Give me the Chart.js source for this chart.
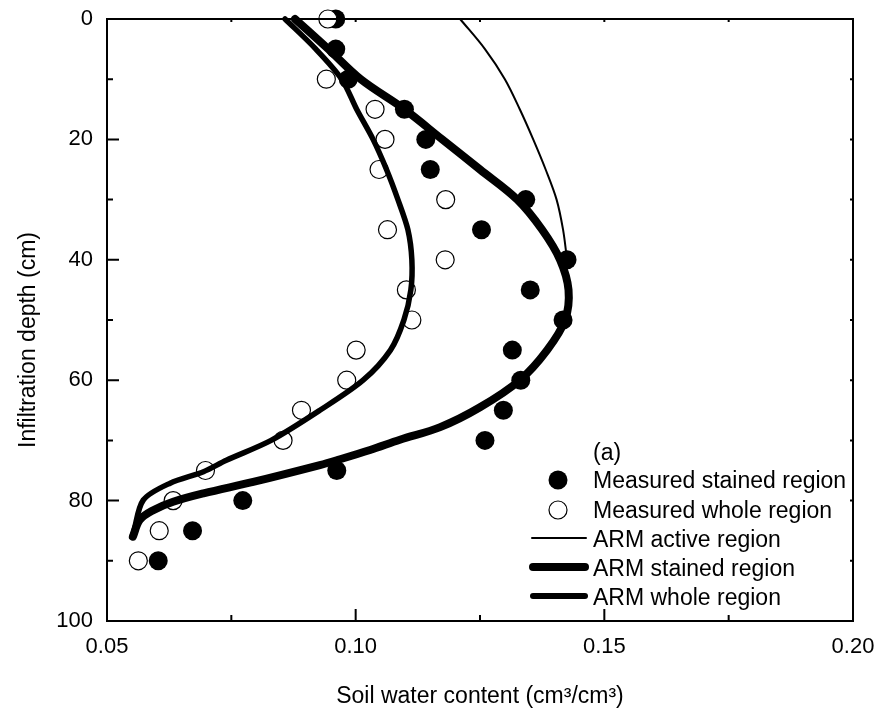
<!DOCTYPE html>
<html><head><meta charset="utf-8">
<script src="https://cdn.jsdelivr.net/npm/chart.js@4/dist/chart.umd.min.js"></script>
<style>html,body{margin:0;padding:0;background:#fff;}#wrap{width:879px;height:717px;}</style>
</head><body><div id="wrap"><canvas id="c" width="879" height="717"></canvas></div>
<script>
// ---- data ----
const depthStained = [0,5,10,15,20,25,30,35,40,45,50,55,60,65,70,75,80,85,90];
const thetaStained = [0.0960,0.0960,0.0985,0.1098,0.1141,0.1150,0.1342,0.1253,0.1425,0.1351,0.1417,0.1315,0.1332,0.1297,0.1260,0.0962,0.0773,0.0672,0.0603];
const depthWhole = [0,10,15,20,25,30,35,40,45,50,55,60,65,70,75,80,85,90];
const thetaWhole = [0.0944,0.0941,0.1039,0.1059,0.1047,0.1181,0.1064,0.1180,0.1102,0.1113,0.1001,0.0982,0.0891,0.0854,0.0698,0.0633,0.0605,0.0563];
const depthArmActive = [0,5,10,15,20,25,30,35,40];
const thetaArmActive = [0.1210,0.1260,0.1300,0.1330,0.1357,0.1382,0.1404,0.1417,0.1425];
const depthArmStained = [0,5,10,15,20,25,30,35,40,45,50,55,60,64.5,67.8,69.9,71.6,73.3,74.1,76.9,78.8,80.2,81.6,83.2,86.0];
const thetaArmStained = [0.0878,0.0945,0.1010,0.1098,0.1174,0.1250,0.1325,0.1375,0.1411,0.1428,0.1421,0.1385,0.1330,0.1250,0.1170,0.1089,0.1029,0.0962,0.0928,0.0794,0.0694,0.0633,0.0593,0.0566,0.0552];
const depthArmWhole = [0,5,10,15,20,25,30,35,40,45,50,55,60,65,70,73.3,75.2,77.1,79.9,85.4,86.0];
const thetaArmWhole = [0.0858,0.0920,0.0972,0.1002,0.1035,0.1062,0.1085,0.1105,0.1113,0.1111,0.1097,0.1070,0.1015,0.0928,0.0830,0.0740,0.0694,0.0627,0.0573,0.0553,0.0550];
const xTicks = [0.05,0.10,0.15,0.20];
const xMinorTicks = [0.075,0.125,0.175];
const yTicks = [0,20,40,60,80,100];
const yMinorTicks = [10,30,50,70,90];
const legendLabels = ['Measured stained region','Measured whole region','ARM active region','ARM stained region','ARM whole region'];
const panelLabel = '(a)';
const xTitle = 'Soil water content (cm\u00B3/cm\u00B3)';
const yTitle = 'Infiltration depth (cm)';

const FONT = "'Liberation Sans', Arial, Helvetica, sans-serif";
const pts = (xs, ys) => xs.map((x,i)=>({x:x, y:ys[i]}));

const decor = {
  id:'decor',
  afterDraw(chart){
    const ctx = chart.ctx, a = chart.chartArea;
    const xs = chart.scales.x, ys = chart.scales.y;
    ctx.save();
    ctx.strokeStyle='#000'; ctx.fillStyle='#000';
    ctx.lineWidth = 2;
    ctx.strokeRect(a.left, a.top, a.right-a.left, a.bottom-a.top);
    ctx.beginPath();
    xTicks.forEach(v=>{const p=xs.getPixelForValue(v); ctx.moveTo(p,a.bottom); ctx.lineTo(p,a.bottom-12); ctx.moveTo(p,a.top); ctx.lineTo(p,a.top+3);});
    xMinorTicks.forEach(v=>{const p=xs.getPixelForValue(v); ctx.moveTo(p,a.bottom); ctx.lineTo(p,a.bottom-6); ctx.moveTo(p,a.top); ctx.lineTo(p,a.top+3);});
    yTicks.forEach(v=>{const p=ys.getPixelForValue(v); ctx.moveTo(a.left,p); ctx.lineTo(a.left+12,p); ctx.moveTo(a.right,p); ctx.lineTo(a.right-3,p);});
    yMinorTicks.forEach(v=>{const p=ys.getPixelForValue(v); ctx.moveTo(a.left,p); ctx.lineTo(a.left+6,p); ctx.moveTo(a.right,p); ctx.lineTo(a.right-3,p);});
    ctx.stroke();
    ctx.font = '23px ' + FONT;
    ctx.textAlign='center'; ctx.textBaseline='alphabetic';
    ctx.fillText(xTitle, (a.left+a.right)/2, 703);
    ctx.save();
    ctx.translate(35, 340);
    ctx.rotate(-Math.PI/2);
    ctx.fillText(yTitle, 0, 0);
    ctx.restore();
    ctx.textAlign='left';
    const tx = 593;
    ctx.fillText(panelLabel, tx, 460);
    const base = [488, 518, 547, 576, 605];
    legendLabels.forEach((t,i)=>ctx.fillText(t, tx, base[i]));
    ctx.beginPath(); ctx.arc(558, 480, 9.5, 0, Math.PI*2); ctx.fill();
    ctx.beginPath(); ctx.arc(558, 510, 9, 0, Math.PI*2); ctx.fillStyle='#fff'; ctx.fill(); ctx.lineWidth=1.2; ctx.stroke();
    ctx.fillStyle='#000';
    ctx.lineCap='round';
    ctx.lineWidth=2; ctx.beginPath(); ctx.moveTo(532,538); ctx.lineTo(586,538); ctx.stroke();
    ctx.lineWidth=8; ctx.beginPath(); ctx.moveTo(533,567); ctx.lineTo(585,567); ctx.stroke();
    ctx.lineWidth=6; ctx.beginPath(); ctx.moveTo(533,596); ctx.lineTo(585,596); ctx.stroke();
    ctx.restore();
  }
};

new Chart(document.getElementById('c'), {
  type:'scatter',
  data:{datasets:[
    {label:legendLabels[2], data:pts(thetaArmActive, depthArmActive), showLine:true, borderColor:'#000', borderWidth:2, pointRadius:0, tension:0.35, clip:false, order:1, borderCapStyle:'round'},
    {label:legendLabels[3], data:pts(thetaArmStained, depthArmStained), showLine:true, borderColor:'#000', borderWidth:8, pointRadius:0, tension:0.35, clip:false, order:1, borderCapStyle:'round', borderJoinStyle:'round'},
    {label:legendLabels[4], data:pts(thetaArmWhole, depthArmWhole), showLine:true, borderColor:'#000', borderWidth:5.5, pointRadius:0, tension:0.3, clip:false, order:1, borderCapStyle:'round', borderJoinStyle:'round'},
    {label:legendLabels[1], data:pts(thetaWhole, depthWhole), pointRadius:9, pointBackgroundColor:'#fff', pointBorderColor:'#000', pointBorderWidth:1.2, clip:false, order:2},
    {label:legendLabels[0], data:pts(thetaStained, depthStained), pointRadius:9.5, pointBackgroundColor:'#000', pointBorderColor:'#000', pointBorderWidth:0, clip:false, order:3}
  ]},
  options:{
    responsive:false, animation:false, devicePixelRatio:1,
    layout:{autoPadding:false, padding:{left:0, top:19, right:26, bottom:0}},
    plugins:{legend:{display:false}, tooltip:{enabled:false}},
    scales:{
      x:{type:'linear', position:'bottom', min:0.05, max:0.20,
         afterBuildTicks(s){ s.ticks = xTicks.map(v=>({value:v})); },
         ticks:{callback:v=>Number(v).toFixed(2), font:{size:22, family:FONT}, color:'#000', padding:13, maxRotation:0},
         grid:{display:false, drawTicks:false}, border:{display:false},
         afterFit(s){ s.height = 96; s.paddingLeft = 0; s.paddingRight = 0; }},
      y:{type:'linear', reverse:true, min:0, max:100,
         afterBuildTicks(s){ s.ticks = yTicks.map(v=>({value:v})); },
         ticks:{font:{size:22, family:FONT}, color:'#000', padding:14},
         grid:{display:false, drawTicks:false}, border:{display:false},
         afterFit(s){ s.width = 107; s.paddingTop = 0; s.paddingBottom = 0; }}
    }
  },
  plugins:[decor]
});
</script></body></html>
